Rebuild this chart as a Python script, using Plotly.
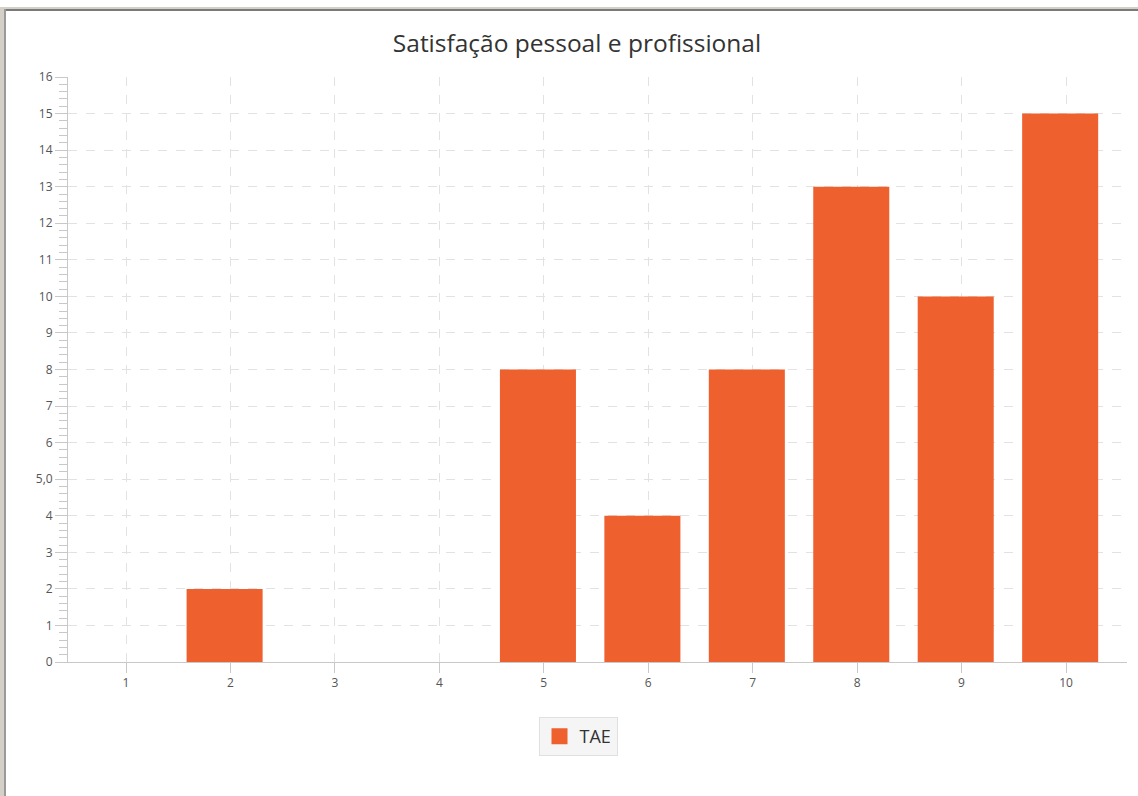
import plotly.graph_objects as go

categories = [1, 2, 3, 4, 5, 6, 7, 8, 9, 10]
tae_values = [0, 2, 0, 0, 8, 4, 8, 13, 10, 15]
y_tick_vals = list(range(0, 17))
y_tick_text = ["0", "1", "2", "3", "4", "5,0", "6", "7", "8", "9", "10",
               "11", "12", "13", "14", "15", "16"]

BAR = "#EE612F"
W, H = 1138, 796
L, R, T, B = 68, 11, 77, 134
pw, ph = W - L - R, H - T - B

def px_x(p):
    return (p - L) / pw

def px_y(p):
    return (H - B - p) / ph

fig = go.Figure()
fig.add_trace(go.Bar(
    x=categories, y=tae_values, width=0.728, offset=-0.42,
    marker=dict(color=BAR, line=dict(width=0)),
    showlegend=False, hoverinfo="x+y",
))
fig.add_trace(go.Scatter(
    x=[None], y=[None], mode="markers", name="TAE",
    marker=dict(symbol="square", size=22, color=BAR),
))

grid = dict(showgrid=True, gridcolor="#e2e2e2", griddash="dash", gridwidth=1)

fig.update_layout(
    width=W, height=H,
    margin=dict(l=L, r=R, t=T, b=B),
    paper_bgcolor="white", plot_bgcolor="white",
    font=dict(family="Open Sans, Noto Sans, sans-serif", color="#555555"),
    title=dict(text="Satisfação pessoal e profissional", xref="container",
               x=577 / W, xanchor="center",
               y=1 - 43 / H, yanchor="middle",
               font=dict(size=24.5, color="#333333")),
    xaxis=dict(range=[0.4446, 10.584], tickmode="array", tickvals=categories,
               ticktext=[str(c) for c in categories],
               showline=True, linecolor="#c8c8c8", linewidth=1,
               ticks="outside", ticklen=10, tickcolor="#c8c8c8",
               tickfont=dict(size=12, color="#555555"), zeroline=False, **grid),
    yaxis=dict(range=[0, 16], tickmode="array", tickvals=y_tick_vals, ticktext=y_tick_text,
               showline=True, linecolor="#c8c8c8", linewidth=1,
               ticks="outside", ticklen=12, tickcolor="#c8c8c8",
               tickfont=dict(size=12, color="#555555"), zeroline=False,
               minor=dict(ticks="outside", dtick=0.2, ticklen=8, tickcolor="#c8c8c8",
                          showgrid=False),
               **grid),
    legend=dict(orientation="h", x=px_x(578), xanchor="center",
                y=px_y(717), yanchor="top",
                bgcolor="#f5f5f5", bordercolor="#e0e0e0", borderwidth=1,
                font=dict(size=18, color="#333333"), itemwidth=30),
)

shapes = [
    dict(type="rect", xref="paper", yref="paper", x0=px_x(0), x1=px_x(W), y0=px_y(7), y1=px_y(9),
         fillcolor="#d4d0c8", line=dict(width=0), layer="above"),
    dict(type="rect", xref="paper", yref="paper", x0=px_x(4), x1=px_x(W), y0=px_y(9), y1=px_y(11),
         fillcolor="#7a7a7a", line=dict(width=0), layer="above"),
    dict(type="rect", xref="paper", yref="paper", x0=px_x(0), x1=px_x(4), y0=px_y(7), y1=px_y(H),
         fillcolor="#d4d0c8", line=dict(width=0), layer="above"),
    dict(type="rect", xref="paper", yref="paper", x0=px_x(4), x1=px_x(6), y0=px_y(9), y1=px_y(H),
         fillcolor="#9a9a9a", line=dict(width=0), layer="above"),
]
fig.update_layout(shapes=shapes)

fig.write_html("out.html", config={"displayModeBar": False},
               post_script="document.body.style.margin='0px';document.body.style.overflow='hidden';")
